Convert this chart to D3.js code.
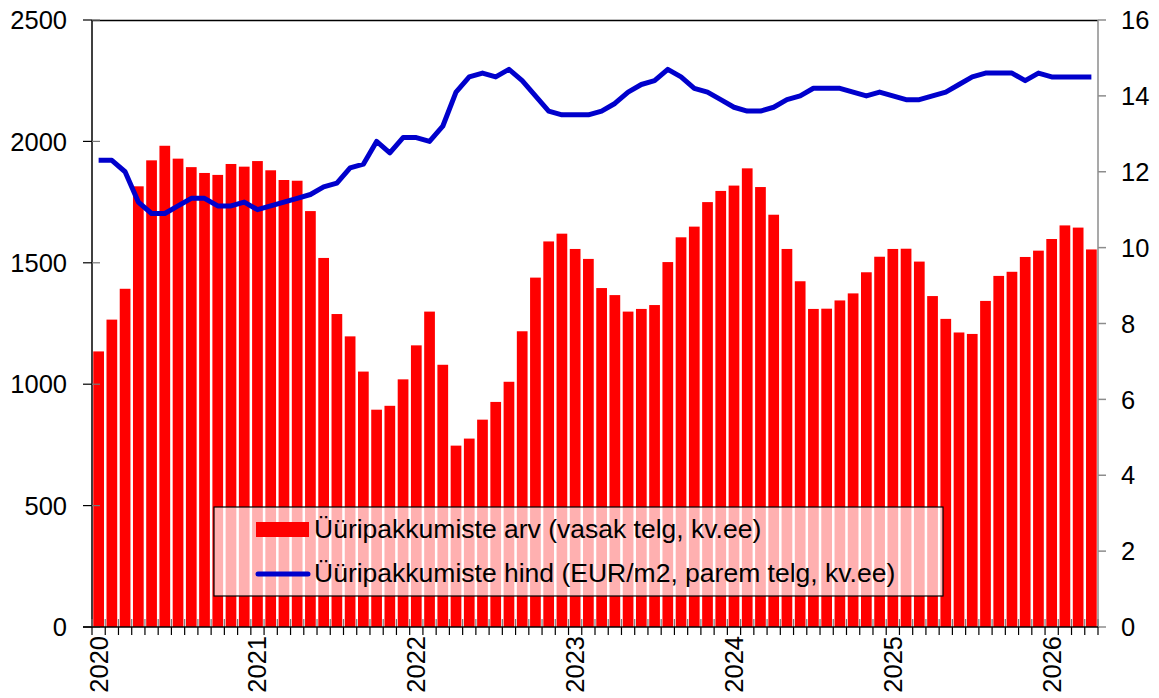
<!DOCTYPE html>
<html>

<head>
  <meta charset='utf-8'>
  <title>Üüripakkumised</title>
  <style>
    body {
      margin: 0;
      background: #fff;
    }

    text {
      font-family: "Liberation Sans", Arial, sans-serif;
      fill: #000;
    }
  </style>
</head>

<body>
  <div id="chart"></div>
</body>
<script src="https://cdn.jsdelivr.net/npm/d3@7"></script>
<script>
  // data, monthly 2020-01 .. 2026-04
  var years = [2020, 2021, 2022, 2023, 2024, 2025, 2026];
  var lastYearMonths = 4;
  var leftTicks = [0, 500, 1000, 1500, 2000, 2500];
  var rightTicks = [0, 2, 4, 6, 8, 10, 12, 14, 16];

  var offerCount = [
    1135, 1266, 1393, 1815, 1922, 1982, 1929, 1894, 1870, 1862, 1907, 1896,
    1919, 1881, 1841, 1838, 1713, 1520, 1289, 1197, 1052, 895, 911, 1020,
    1160, 1299, 1080, 747, 776, 854, 927, 1010, 1218, 1439, 1588, 1620,
    1557, 1516, 1396, 1367, 1299, 1310, 1326, 1503, 1605, 1649, 1750, 1796,
    1818, 1889, 1812, 1698, 1557, 1424, 1310, 1311, 1345, 1374, 1461, 1525,
    1557, 1558, 1505, 1363, 1269, 1213, 1207, 1343, 1446, 1463, 1524, 1550,
    1598, 1654, 1645, 1555
  ];

  var offerPrice = [
    12.3, 12.3, 12.0, 11.2, 10.9, 10.9, 11.1, 11.3, 11.3, 11.1, 11.1, 11.2,
    11.0, 11.1, 11.2, 11.3, 11.4, 11.6, 11.7, 12.1, 12.2, 12.8, 12.5, 12.9,
    12.9, 12.8, 13.2, 14.1, 14.5, 14.6, 14.5, 14.7, 14.4, 14.0, 13.6, 13.5,
    13.5, 13.5, 13.6, 13.8, 14.1, 14.3, 14.4, 14.7, 14.5, 14.2, 14.1, 13.9,
    13.7, 13.6, 13.6, 13.7, 13.9, 14.0, 14.2, 14.2, 14.2, 14.1, 14.0, 14.1,
    14.0, 13.9, 13.9, 14.0, 14.1, 14.3, 14.5, 14.6, 14.6, 14.6, 14.4, 14.6,
    14.5, 14.5, 14.5, 14.5
  ];

  var legendLabels = [
    "Üüripakkumiste arv (vasak telg, kv.ee)",
    "Üüripakkumiste hind (EUR/m2, parem telg, kv.ee)"
  ];

  var BAR_COLOR = "#ff0000";
  var LINE_COLOR = "#0000cc";
  var TICK_FONT = 25.5;
  var LEGEND_FONT = 26.5;

  var months = [];
  years.forEach(function (y, i) {
    var n = i === years.length - 1 ? lastYearMonths : 12;
    for (var m = 1; m <= n; m++) {
      months.push(y + "-" + (m < 10 ? "0" + m : m));
    }
  });

  var data = months.map(function (m, i) {
    return { ym: m, count: offerCount[i], price: offerPrice[i] };
  });

  // plot area in page pixels
  var plot = { left: 92, right: 1098, top: 20, bottom: 627 };

  var svg = d3.select("#chart")
    .append("svg")
    .attr("width", 1159)
    .attr("height", 698);

  var x = d3.scaleBand()
    .domain(months)
    .range([plot.left, plot.right])
    .paddingInner(0.19)
    .paddingOuter(0.095);

  var yLeft = d3.scaleLinear()
    .domain([0, 2500])
    .range([plot.bottom, plot.top]);

  var yRight = d3.scaleLinear()
    .domain([0, 16])
    .range([plot.bottom, plot.top]);

  // bars
  svg.append("g")
    .selectAll("rect")
    .data(data)
    .enter()
    .append("rect")
    .attr("x", function (d) { return x(d.ym); })
    .attr("y", function (d) { return yLeft(d.count); })
    .attr("width", x.bandwidth())
    .attr("height", function (d) { return yLeft(0) - yLeft(d.count); })
    .attr("fill", BAR_COLOR);

  // price line
  svg.append("path")
    .datum(data)
    .attr("fill", "none")
    .attr("stroke", LINE_COLOR)
    .attr("stroke-width", 5)
    .attr("stroke-linejoin", "round")
    .attr("d", d3.line()
      .x(function (d) { return x(d.ym) + x.bandwidth() / 2; })
      .y(function (d) { return yRight(d.price); }));

  // top border
  svg.append("line")
    .attr("x1", plot.left).attr("x2", plot.right)
    .attr("y1", plot.top + 0.5).attr("y2", plot.top + 0.5)
    .attr("stroke", "#000").attr("stroke-width", 1.5);

  // left axis
  var gl = svg.append("g");
  gl.append("line")
    .attr("x1", plot.left).attr("x2", plot.left)
    .attr("y1", plot.top).attr("y2", plot.bottom)
    .attr("stroke", "#000").attr("stroke-width", 1.5);
  leftTicks.forEach(function (t) {
    gl.append("line")
      .attr("x1", plot.left - 9).attr("x2", plot.left)
      .attr("y1", yLeft(t)).attr("y2", yLeft(t))
      .attr("stroke", "#000").attr("stroke-width", 1.2);
    gl.append("line")
      .attr("x1", plot.left).attr("x2", plot.left + 8)
      .attr("y1", yLeft(t)).attr("y2", yLeft(t))
      .attr("stroke", "#777").attr("stroke-width", 1.2);
    gl.append("text")
      .attr("x", 67)
      .attr("y", yLeft(t))
      .attr("dy", "0.36em")
      .attr("text-anchor", "end")
      .style("font-size", TICK_FONT + "px")
      .text(t);
  });

  // right axis
  var gr = svg.append("g");
  gr.append("line")
    .attr("x1", plot.right).attr("x2", plot.right)
    .attr("y1", plot.top).attr("y2", plot.bottom)
    .attr("stroke", "#8c8c8c").attr("stroke-width", 1.5);
  rightTicks.forEach(function (t) {
    gr.append("line")
      .attr("x1", plot.right).attr("x2", plot.right + 8)
      .attr("y1", yRight(t)).attr("y2", yRight(t))
      .attr("stroke", "#8c8c8c").attr("stroke-width", 1.5);
    gr.append("text")
      .attr("x", 1121)
      .attr("y", yRight(t))
      .attr("dy", "0.36em")
      .attr("text-anchor", "start")
      .style("font-size", TICK_FONT + "px")
      .text(t);
  });

  // bottom axis: ticks on month boundaries, year labels under January
  var gb = svg.append("g");
  var half = x.step() * x.paddingInner() / 2;
  var bounds = months.map(function (m) { return x(m) - half; });
  bounds.push(x(months[months.length - 1]) + x.bandwidth() + half);
  bounds.forEach(function (bx) {
    gb.append("line")
      .attr("x1", bx).attr("x2", bx)
      .attr("y1", plot.bottom - 8).attr("y2", plot.bottom)
      .attr("stroke", "#777").attr("stroke-width", 1.2);
    gb.append("line")
      .attr("x1", bx).attr("x2", bx)
      .attr("y1", plot.bottom).attr("y2", plot.bottom + 8)
      .attr("stroke", "#000").attr("stroke-width", 1.2);
  });
  gb.append("line")
    .attr("x1", plot.left - 9).attr("x2", plot.right)
    .attr("y1", plot.bottom).attr("y2", plot.bottom)
    .attr("stroke", "#000").attr("stroke-width", 1.5);

  years.forEach(function (yr) {
    var cx = x(yr + "-01") + x.bandwidth() / 2;
    gb.append("text")
      .attr("transform", "translate(" + (cx + 9) + "," + (plot.bottom + 9) + ") rotate(-90)")
      .attr("text-anchor", "end")
      .style("font-size", TICK_FONT + "px")
      .text(yr);
  });

  // legend
  var lg = svg.append("g").attr("transform", "translate(214,507)");
  lg.append("rect")
    .attr("width", 729)
    .attr("height", 89)
    .attr("fill", "#fff")
    .attr("fill-opacity", 0.69)
    .attr("stroke", "#000")
    .attr("stroke-width", 1.2);
  lg.append("rect")
    .attr("x", 42).attr("y", 15)
    .attr("width", 53).attr("height", 15)
    .attr("fill", BAR_COLOR);
  lg.append("line")
    .attr("x1", 44).attr("x2", 94)
    .attr("y1", 67).attr("y2", 67)
    .attr("stroke", LINE_COLOR)
    .attr("stroke-width", 5)
    .attr("stroke-linecap", "round");
  lg.selectAll("text.lbl")
    .data(legendLabels)
    .enter()
    .append("text")
    .attr("class", "lbl")
    .attr("x", 100)
    .attr("y", function (d, i) { return 31 + i * 44; })
    .style("font-size", LEGEND_FONT + "px")
    .text(function (d) { return d; });
</script>

</html>
